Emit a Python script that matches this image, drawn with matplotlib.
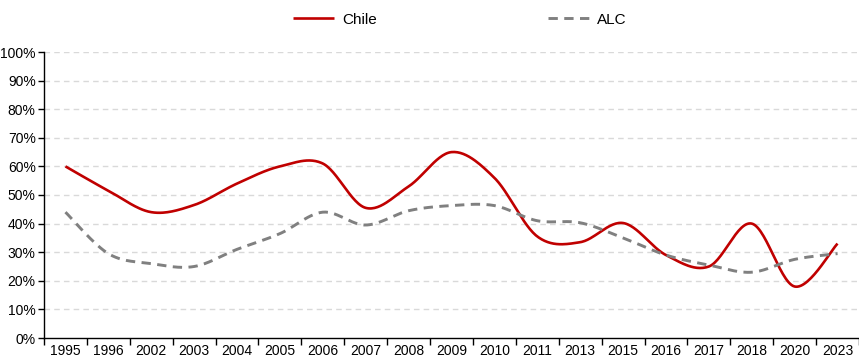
import numpy as np
import matplotlib
matplotlib.use("Agg")
import matplotlib.pyplot as plt

years = ["1995", "1996", "2002", "2003", "2004", "2005", "2006", "2007", "2008", "2009",
         "2010", "2011", "2013", "2015", "2016", "2017", "2018", "2020", "2023"]
chile = [60, 51.5, 44, 46.5, 54, 60, 61, 45.5, 53, 65, 56, 35.5, 33.5, 40.2, 29, 25, 40, 18, 33]
alc = [44, 29.5, 26, 25, 31, 36.5, 44, 39.5, 44.5, 46.3, 46.3, 41, 40.3, 35, 29, 25.5, 23, 27.5, 29.5]

plt.rcParams['font.family'] = ['Liberation Sans', 'DejaVu Sans']


def smooth(x, y, n=30):
    x = np.asarray(x, float); y = np.asarray(y, float)
    P = np.column_stack([x, y])
    P = np.vstack([P[0], P, P[-1]])
    out = []
    for i in range(1, len(P) - 2):
        p0, p1, p2, p3 = P[i - 1], P[i], P[i + 1], P[i + 2]
        c1 = p1 + (p2 - p0) / 6.0
        c2 = p2 - (p3 - p1) / 6.0
        t = np.linspace(0, 1, n)[:, None]
        seg = (1 - t) ** 3 * p1 + 3 * (1 - t) ** 2 * t * c1 + 3 * (1 - t) * t ** 2 * c2 + t ** 3 * p2
        out.append(seg if i == 1 else seg[1:])
    S = np.vstack(out)
    return S[:, 0], S[:, 1]


fig = plt.figure(figsize=(8.59, 3.58), dpi=100)
ax = fig.add_axes([44 / 859, 20 / 358, 815 / 859, 286 / 358])
x = np.arange(len(years))

for v in range(10, 101, 10):
    ax.axhline(v, color="#d9d9d9", lw=1.0, ls=(0, (4, 3)), zorder=0)

xs, ys = smooth(x, chile)
ax.plot(xs, ys, color="#C00000", lw=1.9, label="Chile", solid_capstyle="butt")
xs, ys = smooth(x, alc)
ax.plot(xs, ys, color="#808080", lw=2.1, ls=(0, (3.2, 2.2)), label="ALC")

ax.set_xlim(-0.5, len(years) - 0.5)
ax.set_ylim(0, 100)
ax.set_yticks(range(0, 101, 10))
ax.set_yticklabels([f"{v}%" for v in range(0, 101, 10)], fontsize=10)
ax.set_xticks(x)
ax.set_xticklabels(years, fontsize=10)
ax.set_xticks(np.arange(-0.5, len(years), 1), minor=True)
ax.tick_params(axis="x", which="major", length=0, pad=4)
ax.tick_params(axis="x", which="minor", length=5, width=1, direction="out")
ax.tick_params(axis="y", length=4, width=1, direction="out", pad=2)
for s in ["top", "right"]:
    ax.spines[s].set_visible(False)
for s in ["left", "bottom"]:
    ax.spines[s].set_linewidth(1.0)

fig.legend(loc="center", bbox_to_anchor=(0.535, 0.945), ncol=2, frameon=False,
           fontsize=11, columnspacing=11.2, handlelength=2.7, handletextpad=0.5)

fig.savefig("out.png", dpi=100)
